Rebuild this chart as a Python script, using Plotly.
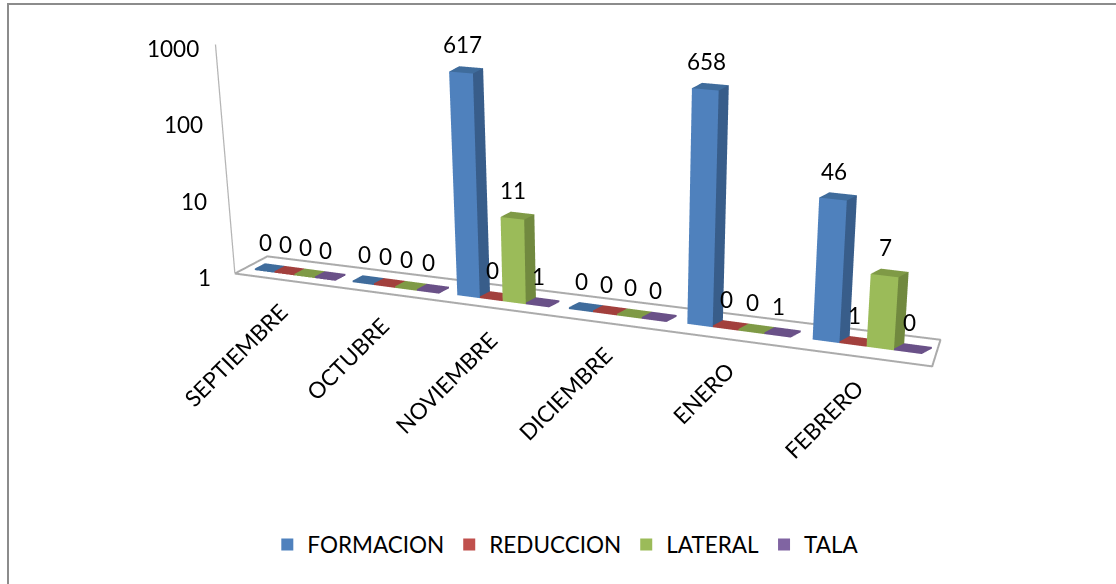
import plotly.graph_objects as go
import math

categories = ["SEPTIEMBRE", "OCTUBRE", "NOVIEMBRE", "DICIEMBRE", "ENERO", "FEBRERO"]
series_names = ["FORMACION", "REDUCCION", "LATERAL", "TALA"]
formacion = [0, 0, 617, 0, 658, 46]
reduccion = [0, 0, 0, 0, 0, 1]
lateral = [0, 0, 11, 0, 0, 7]
tala = [0, 0, 1, 0, 1, 0]
tick_vals = [1, 10, 100, 1000]
front = ["#4F81BD", "#C0504D", "#9BBB59", "#8064A2"]
side = ["#385D8A", "#8E3B38", "#71893F", "#5C4776"]
top = ["#3F6C9C", "#A2403D", "#7F9A46", "#6A5188"]
series = [formacion, reduccion, lateral, tala]

BW = 0.207
DEPTH = 1.0
MIN_H = 0.02
GROUP_SHIFT = -0.07
LIFT = 0.012
FONT = "Lato"
FS = 22.5


def warp(x, y, z):
    """Pseudo-perspective: categories widen to the right, verticals fan out."""
    u = x - 2.5
    nx = u + 0.03 * u * u
    nz = z * (1 + 0.025 * u)
    nx = nx + 0.02 * (u - 0.3) * z
    return nx, y, nz


def box(xc, h, base):
    x0, x1 = xc - BW / 2, xc + BW / 2
    y0, y1 = -DEPTH / 2, DEPTH / 2
    pts = [(x0, y0, 0), (x1, y0, 0), (x1, y1, 0), (x0, y1, 0), (x0, y0, h), (x1, y0, h), (x1, y1, h), (x0, y1, h)]
    w = [warp(*p) for p in pts]
    return [p[0] for p in w], [p[1] for p in w], [p[2] + base for p in w]


# faces: front (2 tris), right side (2 tris), top (2 tris)
I = [0, 0, 1, 1, 4, 4]
J = [1, 5, 2, 6, 5, 6]
K = [5, 4, 6, 5, 6, 7]

fig = go.Figure()
val_lab = []
for s, (vals, name) in enumerate(zip(series, series_names)):
    for c, v in enumerate(vals):
        h = max(math.log10(v), MIN_H) if v > 0 else MIN_H
        xc = c + GROUP_SHIFT + (s - 1.5) * BW
        base = LIFT * c
        xs, ys, zs = box(xc, h, base)
        fc = [front[s]] * 2 + [side[s]] * 2 + [top[s]] * 2
        if h <= MIN_H:
            fc = [top[s]] * 6
        fig.add_trace(go.Mesh3d(x=xs, y=ys, z=zs, i=I, j=J, k=K, facecolor=fc, flatshading=True,
                                lighting=dict(ambient=1, diffuse=0, specular=0, fresnel=0),
                                hoverinfo="skip", showlegend=False))
        lx, ly, lz = warp(xc + 0.01, -DEPTH / 2, h)
        val_lab.append(dict(x=lx, y=ly, z=lz + base, text=str(v), showarrow=False, yshift=28,
                            font=dict(family=FONT, size=FS, color="#000")))
    fig.add_trace(go.Scatter3d(x=[None], y=[None], z=[None], mode="markers", name=name,
                               marker=dict(symbol="square", size=12, color=front[s])))

# floor outline (a frame around the columns)
corners = [(-0.6, -1.4), (5.49, -1.4), (5.24, 2.73), (-0.6, 1.8), (-0.6, -1.4)]
fl = [warp(cx, cy, 0) for cx, cy in corners]
fig.add_trace(go.Scatter3d(x=[p[0] for p in fl], y=[p[1] for p in fl], z=[p[2] for p in fl],
                           mode="lines", line=dict(color="#ABABAB", width=4), showlegend=False, hoverinfo="skip"))
wall = [warp(-0.6, -1.4, 0), warp(-0.56, -1.4, 3)]
fig.add_trace(go.Scatter3d(x=[p[0] for p in wall], y=[p[1] for p in wall], z=[p[2] for p in wall], mode="lines",
                           line=dict(color="#B5B5B5", width=2.5), showlegend=False, hoverinfo="skip"))

cat_ann = []
for c, t in enumerate(categories):
    ax, ay, az = warp(c, -1.4, 0)
    cat_ann.append(dict(x=ax, y=ay, z=az, text=t, textangle=-45, showarrow=False, xanchor="right", yanchor="top",
                        xshift=4, yshift=-14, font=dict(family=FONT, size=FS, color="#000")))
val_ann = []
for v in tick_vals:
    lv = math.log10(v)
    ax, ay, az = warp(-0.6, -1.4, lv)
    val_ann.append(dict(x=ax, y=ay, z=az, text=str(v), showarrow=False, xanchor="right", xshift=-22 + 4 * lv, yshift=-4,
                        font=dict(family=FONT, size=FS, color="#000")))

hidden = dict(visible=False, showgrid=False, zeroline=False, showbackground=False)
fig.update_layout(
    width=1116, height=584, margin=dict(l=0, r=0, t=0, b=0), paper_bgcolor="white",
    font=dict(family=FONT, size=FS, color="#000"),
    legend=dict(orientation="h", x=0.507, xanchor="center", y=0.03, yanchor="bottom"),
    scene=dict(
        domain=dict(x=[0.0, 1.0], y=[0.0, 1.0]),
        xaxis=dict(hidden, range=[-3.6, 3.6]),
        yaxis=dict(hidden, range=[-3, 5]),
        zaxis=dict(hidden, range=[0, 3.1]),
        aspectmode="manual", aspectratio=dict(x=3.17, y=0.62, z=0.9),
        camera=dict(eye=dict(x=1.076, y=-2.327, z=0.296), center=dict(x=-0.093, y=0, z=-0.42), up=dict(x=0, y=0, z=1),
                    projection=dict(type="orthographic")),
        annotations=cat_ann + val_ann + val_lab,
    ),
    shapes=[dict(type="rect", xref="paper", yref="paper", x0=8 / 1116, x1=1.1, y0=-0.1, y1=1 - 4 / 584,
                 line=dict(color="#8C8C8C", width=2))],
)
fig.write_html("out.html", config=dict(displayModeBar=False), post_script="document.body.style.margin='0';")
